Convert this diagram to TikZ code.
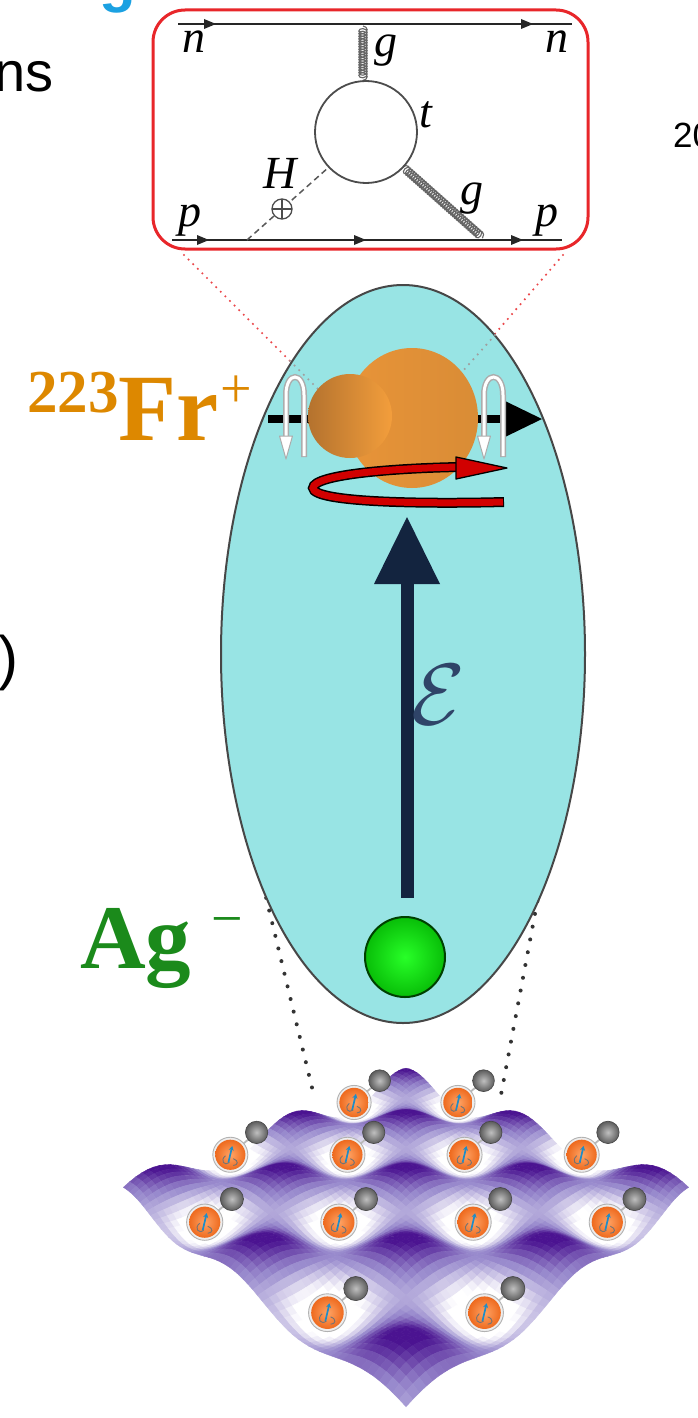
\documentclass[tikz,border=0pt]{standalone}
\usepackage{fontspec}
\setmainfont{Liberation Serif}
\newfontfamily\arialfont{Liberation Sans}
\usetikzlibrary{decorations.pathmorphing,arrows.meta}

\definecolor{cyanfill}{HTML}{98E4E4}
\definecolor{boxred}{HTML}{E8262A}
\definecolor{frorange}{HTML}{DD8800}
\definecolor{aggreen}{HTML}{1B8A1B}
\definecolor{navy}{HTML}{13243F}
\definecolor{epscol}{HTML}{2F4468}
\definecolor{dpur}{HTML}{4A1290}
\definecolor{lav}{HTML}{9A8CCE}
\definecolor{slideblue}{HTML}{1BA1E2}
\definecolor{orcore}{HTML}{EE6A1E}
\definecolor{orlight}{HTML}{FFA466}
\definecolor{spinblue}{HTML}{1E8CC8}

% projection of the optical-lattice sheet: plane coords (X,Y) -> page
\newcommand\latproj[2]{%
  \pgfmathsetmacro\lp{1/(1+0.887*(#2+1)/2)}%
  \pgfmathsetmacro\lzz{-(cos(360*(#1/0.45-0.5))+cos(360*(#2+0.62)/0.45))/2}%
  \pgfmathsetmacro\lsx{406+#1*408*\lp}%
  \pgfmathsetmacro\lsy{705+707*\lp-24*\lzz*\lp}%
}

% one trapped molecule (Fr ion + Ag partner) sitting in a lattice well
\newcommand\frmol[2]{%
  \pgfmathsetmacro\fmp{1/(1+0.887*(#2+1)/2)}%
  \pgfmathsetmacro\fms{0.75+0.35*\fmp}%
  \pgfmathsetmacro\fmx{406+#1*408*\fmp}%
  \pgfmathsetmacro\fmy{705+707*\fmp+24*\fmp-17*\fms}%
  \begin{scope}[shift={(\fmx,\fmy)}, scale=\fms]
    \draw[gray!55, line width=1.8pt] (0,0) -- (27,-23);
    \shade[inner color=gray!50, outer color=gray!72!black] (27,-23) circle [radius=11.5];
    \draw[gray!55!black, line width=0.6pt] (27,-23) circle [radius=11.5];
    \filldraw[fill=gray!14, draw=gray!60, line width=0.9pt] (0,0) circle [radius=18];
    \shade[inner color=orlight, outer color=orcore] (0,0) circle [radius=15.5];
    \draw[spinblue, line width=1.7pt, -{Stealth[length=4.5pt,width=5pt]}] (-2,8) -- (2,-9);
    \draw[black!55, line width=0.9pt] (-5,1) .. controls (-11,6) and (-6,12) .. (-1,8);
    \draw[black!55, line width=0.9pt] (3,4) .. controls (9,6) and (8,11) .. (3,11);
  \end{scope}%
}

% white spin loop with its downward arrowhead
\newcommand\spinloop[2]{%
  \draw[gray!65, line width=6pt] (#1,440) -- (#1,395) .. controls (#1,371) and (#2,371) .. (#2,395) -- (#2,457);
  \draw[white, line width=3pt] (#1,440) -- (#1,395) .. controls (#1,371) and (#2,371) .. (#2,395) -- (#2,456);
  \filldraw[fill=white, draw=gray!65, line width=1pt, line join=round] (#1-6.5,436) -- (#1+6.5,436) -- (#1,459) -- cycle;
}

% small fermion-line arrowhead pointing right, tip at (#1,#2)
\newcommand\ftip[2]{\fill[black!85] (#1-12,#2-5) -- (#1,#2) -- (#1-12,#2+5) -- cycle;}

\begin{document}
\begin{tikzpicture}[x=1pt,y=-1pt,
  gluon/.style={decorate, decoration={coil, aspect=0.75, segment length=2.6pt, amplitude=4.2pt}, line width=1.1pt, black!60},
  fermion/.style={line width=2.4pt, black!85},
  feyn/.style={font=\fontsize{46pt}{46pt}\selectfont\itshape, inner sep=0pt, anchor=base},
  slidetxt/.style={font=\arialfont\fontsize{56pt}{56pt}\selectfont, inner sep=0pt},
  dotred/.style={line width=2.4pt, line cap=round, dash pattern=on 0pt off 6.5pt},
  dotblack/.style={line width=4pt, line cap=round, dash pattern=on 0pt off 13pt, black!80}]

\useasboundingbox (0,0) rectangle (698,1418);
\clip (0,0) rectangle (698,1418);
\fill[white] (0,0) rectangle (698,1418);

% ---- neighbouring slide text, cut by the frame
\node[font=\arialfont\bfseries\fontsize{60pt}{60pt}\selectfont, text=slideblue, anchor=base east, inner sep=0pt] (hg) at (136,1) {Hg};
\node[slidetxt, anchor=base east] (ns) at (54,92) {ns};
\node[slidetxt, anchor=base east, font=\arialfont\fontsize{60pt}{60pt}\selectfont] (paren) at (19,678) {)};
\node[font=\arialfont\fontsize{35pt}{35pt}\selectfont, anchor=base west, inner sep=0pt] (yr) at (673,147) {20};

% ---- Feynman diagram inset
\draw[boxred, line width=3pt, rounded corners=32pt] (153,10) rectangle (588,249);
\draw[fermion] (178,24) -- (572,24);
\ftip{216}{24} \ftip{533}{24}
\draw[fermion] (172,240) -- (562,240);
\ftip{209}{240} \ftip{366}{240} \ftip{523}{240}
\draw[gluon] (363,26) -- (363,81);
\draw[gluon] (403,167) -- (483,238);
\draw[line width=1.8pt, black!70] (366,132) circle [radius=51];
\draw[black!65, line width=1.5pt, dash pattern=on 6pt off 4pt] (247,240) -- (329,167);
\filldraw[fill=white, draw=black!70, line width=1.3pt] (282,209) circle [radius=10];
\draw[black!70, line width=1.2pt] (272,209) -- (292,209) (282,199) -- (282,219);
\node[feyn] (nl) at (194,53) {n};
\node[feyn] (nr) at (557,53) {n};
\node[feyn] (gt) at (386,57) {g};
\node[feyn] (tq) at (426,128) {t};
\node[feyn] (hb) at (280,188) {H};
\node[feyn] (gb) at (472,204) {g};
\node[feyn] (pl) at (190,226) {p};
\node[feyn] (pr) at (547,226) {p};

% ---- zoom guides
\draw[dotred, boxred!85] (184,255) -- (318,389);
\draw[dotred, boxred!85] (563,255) -- (462,372);
\draw[dotblack] (257,860) -- (315,1100);
\draw[dotblack] (547,850) -- (500,1100);

% ---- trap ellipse
\filldraw[fill=cyanfill, draw=black!72, line width=2pt] (403,654) ellipse [x radius=182, y radius=369];
\draw[dotred, gray!75] (290,361) -- (318,389);
\draw[dotred, gray!75] (495,335) -- (462,372);

% ---- spin axis arrow
\draw[line width=8pt] (268,419) -- (510,419);
\fill (505,401) -- (542,419) -- (505,437) -- cycle;

% ---- pear-shaped nucleus
\shade[left color={rgb,255:red,232;green,148;blue,56}, middle color={rgb,255:red,249;green,164;blue,60}, right color={rgb,255:red,217;green,140;blue,54}] (412,418) ellipse [x radius=66, y radius=70];
\shade[left color={rgb,255:red,180;green,114;blue,46}, right color={rgb,255:red,243;green,158;blue,60}] (350,416) circle [radius=42];

\spinloop{286}{304}
\spinloop{484}{503}

% ---- rotation arrow
\draw[black, line width=10pt, line cap=butt] (504,502) .. controls (430,504) and (313,503) .. (313,488) .. controls (313,474) and (400,468) .. (460,467);
\draw[red!82!black, line width=7pt, line cap=butt] (503,502) .. controls (430,504) and (313,503) .. (313,488) .. controls (313,474) and (400,468) .. (461,467);
\filldraw[fill=red!82!black, draw=black, line width=1.3pt, line join=round] (456,457) -- (507,468) -- (456,479) -- cycle;

% ---- electric field
\fill[navy] (400.5,898) rectangle (413.5,580);
\fill[navy] (374,584) -- (407,517) -- (440,584) -- cycle;
\node[text=epscol, font=\Huge, scale=3.5, inner sep=0pt] (eps) at (438,695) {$\mathcal{E}$};

% ---- silver anion
\shade[inner color={rgb,255:red,40;green,255;blue,40}, outer color={rgb,255:red,8;green,190;blue,8}] (405,957) circle [radius=40];
\draw[line width=2pt, black!75!green] (405,957) circle [radius=40];

% ---- species labels
\node[font=\fontsize{61pt}{61pt}\selectfont\bfseries, text=frorange, anchor=base west, inner sep=0pt] (fra) at (27,412) {223};
\node[font=\fontsize{95pt}{95pt}\selectfont\bfseries, text=frorange, anchor=base west, inner sep=0pt] (frb) at (118,440) {Fr};
\node[font=\fontsize{56pt}{56pt}\selectfont, text=frorange, inner sep=0pt] (frc) at (236,392) {+};
\node[font=\fontsize{91pt}{91pt}\selectfont\bfseries, text=aggreen, anchor=base west, inner sep=0pt] (aga) at (80,968) {Ag};
\node[font=\fontsize{56pt}{56pt}\selectfont, text=aggreen, inner sep=0pt] (agb) at (227,927) {−};

% ---- optical lattice: height field on a 60x60 mesh
\foreach \i in {0,...,60}{
  \foreach \j in {0,...,60}{
    \pgfmathsetmacro\uu{\i/60}
    \pgfmathsetmacro\vv{\j/60}
    \pgfmathsetmacro\XX{\uu-\vv}
    \pgfmathsetmacro\YY{1-\uu-\vv}
    \latproj{\XX}{\YY}
    \expandafter\xdef\csname lx\i-\j\endcsname{\lsx}
    \expandafter\xdef\csname ly\i-\j\endcsname{\lsy}
    \expandafter\xdef\csname lz\i-\j\endcsname{\lzz}
  }
}
% painted back to front; tone from height, lightened on slopes facing the viewer
\foreach \s in {0,...,118}{
  \pgfmathtruncatemacro\ilo{max(0,\s-59)}
  \pgfmathtruncatemacro\ihi{min(\s,59)}
  \foreach \qi in {\ilo,...,\ihi}{
    \pgfmathtruncatemacro\qj{\s-\qi}
    \pgfmathtruncatemacro\qii{\qi+1}
    \pgfmathtruncatemacro\qjj{\qj+1}
    \edef\xa{\csname lx\qi-\qj\endcsname}\edef\ya{\csname ly\qi-\qj\endcsname}
    \edef\xb{\csname lx\qii-\qj\endcsname}\edef\yb{\csname ly\qii-\qj\endcsname}
    \edef\xc{\csname lx\qii-\qjj\endcsname}\edef\yc{\csname ly\qii-\qjj\endcsname}
    \edef\xd{\csname lx\qi-\qjj\endcsname}\edef\yd{\csname ly\qi-\qjj\endcsname}
    \edef\za{\csname lz\qi-\qj\endcsname}\edef\zc{\csname lz\qii-\qjj\endcsname}
    \pgfmathsetmacro\qt{(\za+\csname lz\qii-\qj\endcsname+\zc+\csname lz\qi-\qjj\endcsname)/8+0.5-0.8*(\za-\zc)}
    \pgfmathsetmacro\qt{max(0,min(1,\qt))}
    \ifdim\qt pt<0.55pt
      \pgfmathtruncatemacro\qm{max(0,min(100,(\qt-0.12)*240))}
      \colorlet{qcol}{lav!\qm!white}
    \else
      \pgfmathtruncatemacro\qm{min(100,(\qt-0.55)*222)}
      \colorlet{qcol}{dpur!\qm!lav}
    \fi
    \filldraw[fill=qcol, draw=qcol, line width=0.4pt] (\xa,\ya) -- (\xb,\yb) -- (\xc,\yc) -- (\xd,\yd) -- cycle;
  }
}

% ---- molecules in the wells, back rows first
\foreach \k/\m in {-1/3,0/3,-2/2,-1/2,0/2,1/2,-2/1,-1/1,0/1,1/1,-1/0,0/0}{
  \pgfmathsetmacro\wx{0.45*(\k+0.5)}
  \pgfmathsetmacro\wy{-0.62+0.45*\m}
  \frmol{\wx}{\wy}
}
\end{tikzpicture}
\end{document}
